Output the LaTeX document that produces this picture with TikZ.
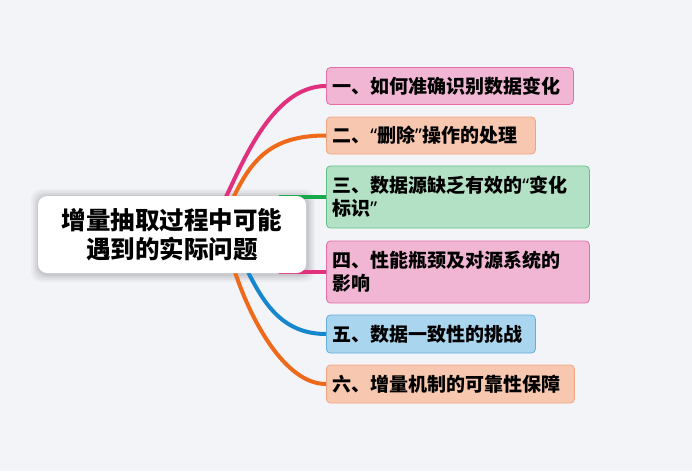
\documentclass[tikz,border=0pt]{standalone}
\usepackage{fontspec}
\newfontfamily\cjk{Noto Sans CJK SC}
\newfontfamily\lat{Noto Sans}
\newcommand{\myLq}{{\lat\bfseries “}}
\newcommand{\myRq}{{\lat\bfseries ”}}
\definecolor{bgc}{HTML}{F3F4F7}
\definecolor{pinkF}{HTML}{F1B6D3}
\definecolor{pinkD}{HTML}{E36FA6}
\definecolor{oranF}{HTML}{F7C8AF}
\definecolor{oranD}{HTML}{F0A57E}
\definecolor{greenF}{HTML}{B3E1C5}
\definecolor{greenD}{HTML}{62C286}
\definecolor{blueF}{HTML}{AAD5EE}
\definecolor{blueD}{HTML}{63AEDD}
\definecolor{pinkL}{HTML}{E0307E}
\definecolor{oranL}{HTML}{EE6A1A}
\definecolor{greenL}{HTML}{17A94C}
\definecolor{blueL}{HTML}{1686CD}
\pgfdeclarelayer{back}
\pgfdeclarelayer{bg}
\pgfsetlayers{back,bg,main}
\begin{document}
\begin{tikzpicture}[x=1pt,y=-1pt,
  br/.style={draw, line width=0.8pt, rounded corners=4pt, anchor=west,
    inner xsep=6pt, inner ysep=0pt, align=left, text=black,
    font=\cjk\bfseries\fontsize{19}{23}\selectfont},
  ln/.style={line width=4pt, line cap=round},
  centre/.style={fill=white, rounded corners=9pt, minimum width=268pt,
    minimum height=77pt, align=center, text=black, inner sep=0pt,
    font=\cjk\bfseries\fontsize{24.5}{29}\selectfont}]
\useasboundingbox (0,0) rectangle (692,471);
\begin{pgfonlayer}{back}
  \fill[bgc] (0,0) rectangle (692,471);
  \foreach \e/\o in {8/0.03,6/0.04,4/0.05,2/0.06}{
    \fill[black,opacity=\o,rounded corners=10pt] (39-\e,196-\e+1) rectangle (307+\e,273+\e+1);
  }
\end{pgfonlayer}

\node[centre] (c) at (172,234.5) {增量抽取过程中可能\\遇到的实际问题};

\node[br, fill=pinkF, draw=pinkD, text width=235pt, minimum height=37pt] (n1) at (326,86) {一、如何准确识别数据变化};
\node[br, fill=oranF, draw=oranD, text width=197pt, minimum height=37pt] (n2) at (326,135.5) {二、\myLq 删除\myRq 操作的处理};
\node[br, fill=greenF, draw=greenD, text width=251pt, minimum height=62pt] (n3) at (326,197) {三、数据源缺乏有效的\myLq 变化\\标识\myRq};
\node[br, fill=pinkF, draw=pinkD, text width=251pt, minimum height=62pt] (n4) at (326,272) {四、性能瓶颈及对源系统的\\影响};
\node[br, fill=blueF, draw=blueD, text width=197pt, minimum height=38pt] (n5) at (326,334) {五、数据一致性的挑战};
\node[br, fill=oranF, draw=oranD, text width=236pt, minimum height=38pt] (n6) at (326,384) {六、增量机制的可靠性保障};

\coordinate (s1) at (222,205);
\coordinate (s2) at (230,205);
\coordinate (s3) at (280,197);
\coordinate (s4) at (280,272);
\coordinate (s5) at (245,266);
\coordinate (s6) at (233,266);

\begin{pgfonlayer}{bg}
  \draw[ln, pinkL] (s1) .. controls (240,170) and (270,86) .. (n1.west);
  \draw[ln, oranL] (s2) .. controls (250,160) and (270,135.5) .. (n2.west);
  \draw[ln, greenL] (s3) -- (n3.west);
  \draw[ln, pinkL] (s4) -- (n4.west);
  \draw[ln, blueL] (s5) .. controls (262,300) and (280,334) .. (n5.west);
  \draw[ln, oranL] (s6) .. controls (250,320) and (285,384) .. (n6.west);
\end{pgfonlayer}
\end{tikzpicture}
\end{document}
